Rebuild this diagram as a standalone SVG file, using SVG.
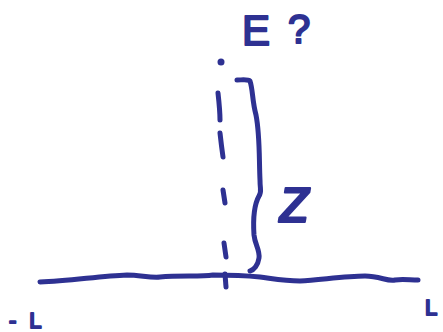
<svg xmlns="http://www.w3.org/2000/svg" width="443" height="332" viewBox="0 0 443 332">
<style>
.ink{fill:none;stroke:#2e3192;stroke-width:5;stroke-linecap:round;stroke-linejoin:round}
.lbl{fill:#2e3192;stroke:#2e3192;stroke-width:2;stroke-linejoin:round;font-family:"Liberation Sans",Arial,sans-serif}
</style>
<rect width="443" height="332" fill="#ffffff"/>
<g id="axis">
<path class="ink" d="M40,282 C70,281 100,276 127,275 C140,275 150,278 160,277 C180,275 200,277 213,275 C225,275 240,275 260,277 C275,279 285,281 300,281 C320,280 345,276 365,276 C380,276 388,282 395,280 C402,279 410,280 418,280"/>
<path class="ink" d="M225,274 L226,287"/>
</g>
<g id="height-line">
<circle cx="221" cy="62" r="3.5" fill="#2e3192"/>
<path class="ink" d="M218,93 C219,102 220,111 220,120"/>
<path class="ink" d="M220,133 C221,142 222,150 223,157"/>
<path class="ink" d="M223,190 L225,203"/>
<path class="ink" d="M224,243 L226,257"/>
</g>
<g id="brace">
<path class="ink" d="M237,80 C242,80 248,79 250,81 C253,90 252,100 256,115 C260,135 259,160 260,180 C260,190 262,192 259,196 C254,205 253,220 254,235 C255,245 260,250 259,258 C258,265 254,270 250,271"/>
</g>
<g id="labels">
<text class="lbl" x="242" y="45" font-size="42">E</text>
<text class="lbl" x="288" y="43" font-size="40">?</text>
<text class="lbl" x="279" y="222" font-size="64" font-style="italic">z</text>
<text class="lbl" x="9" y="328" font-size="22">-<tspan dx="13">L</tspan></text>
<text class="lbl" x="425" y="315" font-size="22">L</text>
</g>
</svg>
